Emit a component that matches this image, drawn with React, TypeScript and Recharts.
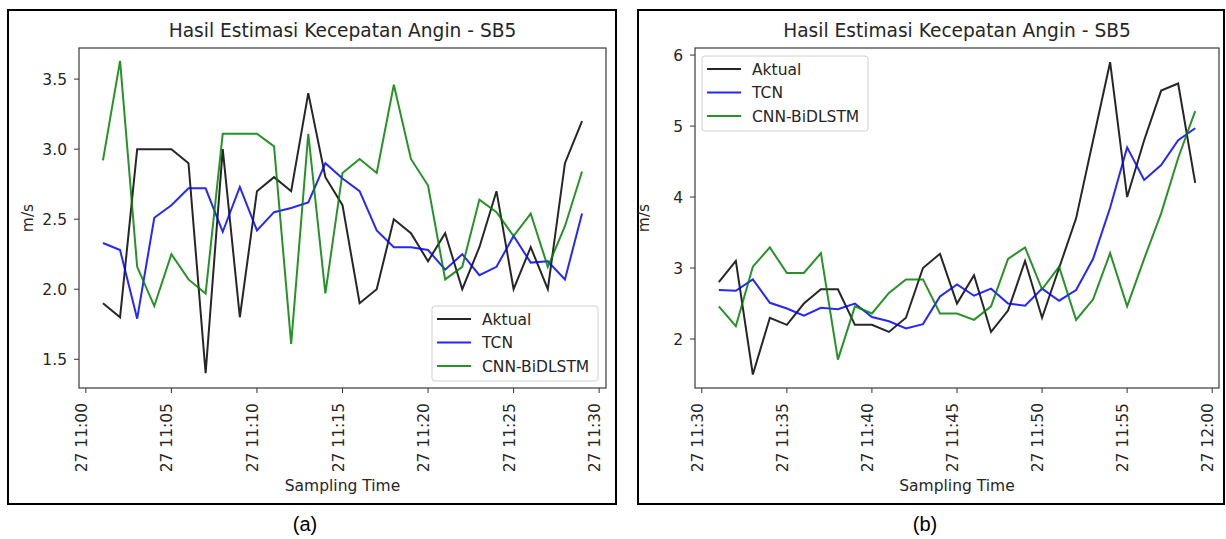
import React from "react";
import { LineChart, Line, XAxis, YAxis } from "recharts";

// ---- data ----
const minutes = [1, 2, 3, 4, 5, 6, 7, 8, 9, 10, 11, 12, 13, 14, 15, 16, 17, 18, 19, 20, 21, 22, 23, 24, 25, 26, 27, 28, 29];

const aktualA = [1.9, 1.8, 3.0, 3.0, 3.0, 2.9, 1.4, 3.0, 1.8, 2.7, 2.8, 2.7, 3.4, 2.8, 2.6, 1.9, 2.0, 2.5, 2.4, 2.2, 2.4, 2.0, 2.3, 2.7, 2.0, 2.3, 2.0, 2.9, 3.2];
const tcnA = [2.33, 2.28, 1.79, 2.51, 2.6, 2.72, 2.72, 2.41, 2.73, 2.42, 2.55, 2.58, 2.62, 2.9, 2.79, 2.7, 2.42, 2.3, 2.3, 2.28, 2.14, 2.25, 2.1, 2.16, 2.38, 2.19, 2.2, 2.07, 2.54];
const cnnA = [2.92, 3.63, 2.16, 1.88, 2.25, 2.07, 1.97, 3.11, 3.11, 3.11, 3.02, 1.61, 3.11, 1.97, 2.83, 2.93, 2.83, 3.46, 2.93, 2.74, 2.07, 2.16, 2.64, 2.55, 2.38, 2.54, 2.16, 2.45, 2.84];

const aktualB = [2.8, 3.1, 1.5, 2.3, 2.2, 2.5, 2.7, 2.7, 2.2, 2.2, 2.1, 2.3, 3.0, 3.2, 2.5, 2.9, 2.1, 2.4, 3.1, 2.3, 3.0, 3.7, 4.8, 5.9, 4.0, 4.8, 5.5, 5.6, 4.2];
const tcnB = [2.69, 2.68, 2.84, 2.51, 2.43, 2.33, 2.44, 2.42, 2.5, 2.31, 2.25, 2.15, 2.21, 2.6, 2.77, 2.61, 2.71, 2.5, 2.47, 2.71, 2.54, 2.69, 3.13, 3.85, 4.7, 4.24, 4.45, 4.8, 4.97];
const cnnB = [2.46, 2.18, 3.02, 3.29, 2.93, 2.93, 3.21, 1.71, 2.46, 2.36, 2.65, 2.84, 2.84, 2.36, 2.36, 2.27, 2.46, 3.13, 3.29, 2.7, 3.02, 2.27, 2.56, 3.21, 2.46, 3.13, 3.77, 4.55, 5.21];

const xTickValues = [0, 5, 10, 15, 20, 25, 30];
const xTickLabelsA = ["27 11:00", "27 11:05", "27 11:10", "27 11:15", "27 11:20", "27 11:25", "27 11:30"];
const xTickLabelsB = ["27 11:30", "27 11:35", "27 11:40", "27 11:45", "27 11:50", "27 11:55", "27 12:00"];
const yTicksA = [1.5, 2.0, 2.5, 3.0, 3.5];
const yTicksB = [2, 3, 4, 5, 6];

const seriesNames = ["Aktual", "TCN", "CNN-BiDLSTM"];
const seriesKeys = ["aktual", "tcn", "cnn"];
const seriesColors = ["#000000", "#0000ff", "#008000"];

const title = "Hasil Estimasi Kecepatan Angin - SB5";
const xLabel = "Sampling Time";
const yLabel = "m/s";

const FONT = "'DejaVu Sans', sans-serif";
const TXT = "#262626";
const FS = 15.5;
const H = 539;
const PLOT_TOP = 48;
const PLOT_BOTTOM = 388;
const XH = 100;
const YW = 60;

function build(a: number[], t: number[], c: number[]) {
  return minutes.map((m, i) => ({ m, aktual: a[i], tcn: t[i], cnn: c[i] }));
}

const dataA = build(aktualA, tcnA, cnnA);
const dataB = build(aktualB, tcnB, cnnB);

function makeXTick(labels: string[]) {
  return (props: any) => {
    const { x, y, payload } = props;
    const idx = xTickValues.indexOf(payload.value);
    const lx = x + 1;
    return (
      <text
        x={lx}
        y={y}
        transform={`rotate(-90 ${lx} ${y})`}
        textAnchor="end"
        fontSize={FS}
        fill={TXT}
        fontFamily={FONT}
      >
        {labels[idx]}
      </text>
    );
  };
}

type PanelProps = {
  left: number;
  width: number;
  plotLeft: number;
  plotRight: number;
  data: any[];
  yDomain: [number, number];
  yTicks: number[];
  yFmt: (v: number) => string;
  xLabels: string[];
};

function Panel(p: PanelProps) {
  return (
    <div style={{ position: "absolute", left: p.left, top: 0 }}>
      <LineChart
        width={p.width}
        height={H}
        data={p.data}
        margin={{
          top: PLOT_TOP,
          right: p.left + p.width - p.plotRight,
          bottom: H - PLOT_BOTTOM - XH,
          left: p.plotLeft - p.left - YW,
        }}
      >
        <XAxis
          dataKey="m"
          type="number"
          domain={[-0.4, 30.4]}
          ticks={xTickValues}
          interval={0}
          height={XH}
          axisLine={false}
          tickLine={{ stroke: "#333" }}
          tickSize={5}
          tickMargin={10}
          tick={makeXTick(p.xLabels)}
          allowDataOverflow
        />
        <YAxis
          type="number"
          domain={p.yDomain}
          ticks={p.yTicks}
          interval={0}
          width={YW}
          axisLine={false}
          tickLine={{ stroke: "#333" }}
          tickSize={5}
          tickMargin={7}
          tickFormatter={p.yFmt}
          tick={{ fontSize: FS, fill: TXT, fontFamily: FONT }}
          allowDataOverflow
        />
        {seriesKeys.map((k, i) => (
          <Line
            key={k}
            dataKey={k}
            type="linear"
            stroke={seriesColors[i]}
            strokeOpacity={0.85}
            strokeWidth={2}
            dot={false}
            isAnimationActive={false}
          />
        ))}
      </LineChart>
    </div>
  );
}

function LegendBox({ x, y }: { x: number; y: number }) {
  const rows = [13, 36.5, 60];
  return (
    <g>
      <rect x={x} y={y} width={166} height={75} rx={3} fill="#ffffff" fillOpacity={0.8} stroke="#d0d0d0" strokeWidth={1} />
      {seriesNames.map((n, i) => (
        <g key={n}>
          <line x1={x + 5} x2={x + 39} y1={y + rows[i]} y2={y + rows[i]} stroke={seriesColors[i]} strokeOpacity={0.85} strokeWidth={2} />
          <text x={x + 50} y={y + rows[i] + 5.5} fontSize={FS} fill={TXT} fontFamily={FONT}>
            {n}
          </text>
        </g>
      ))}
    </g>
  );
}

function Decor({ plotLeft, plotRight, bx, bw, caption, capX, legend }: any) {
  const cx = (plotLeft + plotRight) / 2;
  const cy = (PLOT_TOP + PLOT_BOTTOM) / 2;
  return (
    <g>
      <rect x={bx} y={10} width={bw} height={494} fill="none" stroke="#000" strokeWidth={2} />
      <rect x={plotLeft} y={PLOT_TOP} width={plotRight - plotLeft} height={PLOT_BOTTOM - PLOT_TOP} fill="none" stroke="#3a3a3a" strokeWidth={1.2} />
      <text x={cx} y={37} textAnchor="middle" fontSize={18.6} fill={TXT} fontFamily={FONT}>
        {title}
      </text>
      <text x={cx} y={491} textAnchor="middle" fontSize={FS} fill={TXT} fontFamily={FONT}>
        {xLabel}
      </text>
      <text
        x={plotLeft - 46}
        y={cy}
        transform={`rotate(-90 ${plotLeft - 46} ${cy})`}
        textAnchor="middle"
        fontSize={FS}
        fill={TXT}
        fontFamily={FONT}
      >
        {yLabel}
      </text>
      <text x={capX} y={531} textAnchor="middle" fontSize={20} fill="#000" fontFamily="'Liberation Sans', Arial, sans-serif">
        {caption}
      </text>
      <LegendBox x={legend[0]} y={legend[1]} />
    </g>
  );
}

export default function App() {
  return (
    <div style={{ position: "absolute", left: 0, top: 0, width: 1226, height: H, background: "#fff", overflow: "hidden" }}>
      <Panel
        left={0}
        width={620}
        plotLeft={79}
        plotRight={606}
        data={dataA}
        yDomain={[1.295, 3.722]}
        yTicks={yTicksA}
        yFmt={(v) => v.toFixed(1)}
        xLabels={xTickLabelsA}
      />
      <Panel
        left={620}
        width={606}
        plotLeft={695}
        plotRight={1219}
        data={dataB}
        yDomain={[1.31, 6.1]}
        yTicks={yTicksB}
        yFmt={(v) => String(v)}
        xLabels={xTickLabelsB}
      />
      <svg width={1226} height={H} style={{ position: "absolute", left: 0, top: 0, pointerEvents: "none" }}>
        <Decor plotLeft={79} plotRight={606} bx={8} bw={608} caption="(a)" capX={305} legend={[432, 306]} />
        <Decor plotLeft={695} plotRight={1219} bx={638} bw={586} caption="(b)" capX={925} legend={[702, 56]} />
      </svg>
    </div>
  );
}
